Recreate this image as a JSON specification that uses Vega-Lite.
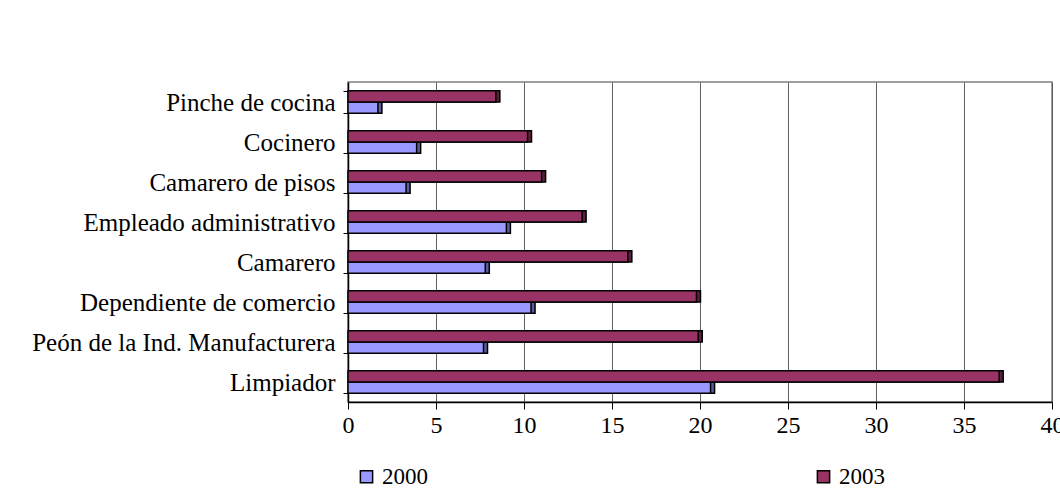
{
  "$schema": "https://vega.github.io/schema/vega-lite/v6.json",
  "autosize": "none",
  "width": 704,
  "height": 320,
  "padding": {"left": 348, "top": 82, "right": 8, "bottom": 88},
  "background": "white",
  "config": {
    "view": {"stroke": "#808080", "strokeWidth": 1.5},
    "font": "Liberation Serif"
  },
  "data": {
    "values": [
      {"ocupacion": "Limpiador", "anio": "2000", "valor": 20.6},
      {"ocupacion": "Limpiador", "anio": "2003", "valor": 37.0},
      {"ocupacion": "Peón de la Ind. Manufacturera", "anio": "2000", "valor": 7.7},
      {"ocupacion": "Peón de la Ind. Manufacturera", "anio": "2003", "valor": 19.9},
      {"ocupacion": "Dependiente de comercio", "anio": "2000", "valor": 10.4},
      {"ocupacion": "Dependiente de comercio", "anio": "2003", "valor": 19.8},
      {"ocupacion": "Camarero", "anio": "2000", "valor": 7.8},
      {"ocupacion": "Camarero", "anio": "2003", "valor": 15.9},
      {"ocupacion": "Empleado administrativo", "anio": "2000", "valor": 9.0},
      {"ocupacion": "Empleado administrativo", "anio": "2003", "valor": 13.3},
      {"ocupacion": "Camarero de pisos", "anio": "2000", "valor": 3.3},
      {"ocupacion": "Camarero de pisos", "anio": "2003", "valor": 11.0},
      {"ocupacion": "Cocinero", "anio": "2000", "valor": 3.9},
      {"ocupacion": "Cocinero", "anio": "2003", "valor": 10.2},
      {"ocupacion": "Pinche de cocina", "anio": "2000", "valor": 1.7},
      {"ocupacion": "Pinche de cocina", "anio": "2003", "valor": 8.4}
    ]
  },
  "encoding": {
    "y": {
      "field": "ocupacion",
      "type": "nominal",
      "sort": ["Pinche de cocina", "Cocinero", "Camarero de pisos", "Empleado administrativo", "Camarero", "Dependiente de comercio", "Peón de la Ind. Manufacturera", "Limpiador"],
      "scale": {"paddingInner": 0.44, "paddingOuter": 0.22},
      "axis": {
        "title": null,
        "tickBand": "extent",
        "tickSize": 5,
        "tickColor": "black",
        "domainColor": "black",
        "domainWidth": 1.5,
        "labelFont": "Liberation Serif",
        "labelFontSize": 25,
        "labelColor": "black",
        "labelPadding": 8,
        "labelLimit": 400,
        "grid": false
      }
    },
    "yOffset": {"field": "anio", "type": "nominal", "sort": ["2003", "2000"]},
    "x": {
      "field": "valor",
      "type": "quantitative",
      "scale": {"domain": [0, 40], "nice": false},
      "axis": {
        "title": null,
        "values": [0, 5, 10, 15, 20, 25, 30, 35, 40],
        "tickSize": 7,
        "tickColor": "black",
        "domainColor": "black",
        "domainWidth": 1.5,
        "labelFont": "Liberation Serif",
        "labelFontSize": 24,
        "labelColor": "black",
        "labelPadding": 4,
        "labelFlush": false,
        "grid": true,
        "gridColor": "#606060",
        "gridWidth": 1
      }
    }
  },
  "layer": [
    {
      "mark": {"type": "bar", "xOffset": 4, "stroke": "black", "strokeWidth": 1.5},
      "encoding": {
        "fill": {
          "condition": {"test": "datum.anio === '2000'", "value": "#5c5c99"},
          "value": "#5c1f3d"
        }
      }
    },
    {
      "mark": {"type": "bar", "stroke": "black", "strokeWidth": 1.5},
      "encoding": {
        "color": {
          "field": "anio",
          "type": "nominal",
          "scale": {"domain": ["2000", "2003"], "range": ["#9999FF", "#993366"]},
          "legend": {
            "title": null,
            "orient": "none",
            "legendX": 7,
            "legendY": 383,
            "direction": "horizontal",
            "columns": 2,
            "columnPadding": 384,
            "symbolType": "square",
            "symbolSize": 150,
            "symbolStrokeColor": "black",
            "symbolStrokeWidth": 1.5,
            "labelFont": "Liberation Serif",
            "labelFontSize": 23,
            "labelColor": "black",
            "labelOffset": 4
          }
        }
      }
    }
  ]
}
